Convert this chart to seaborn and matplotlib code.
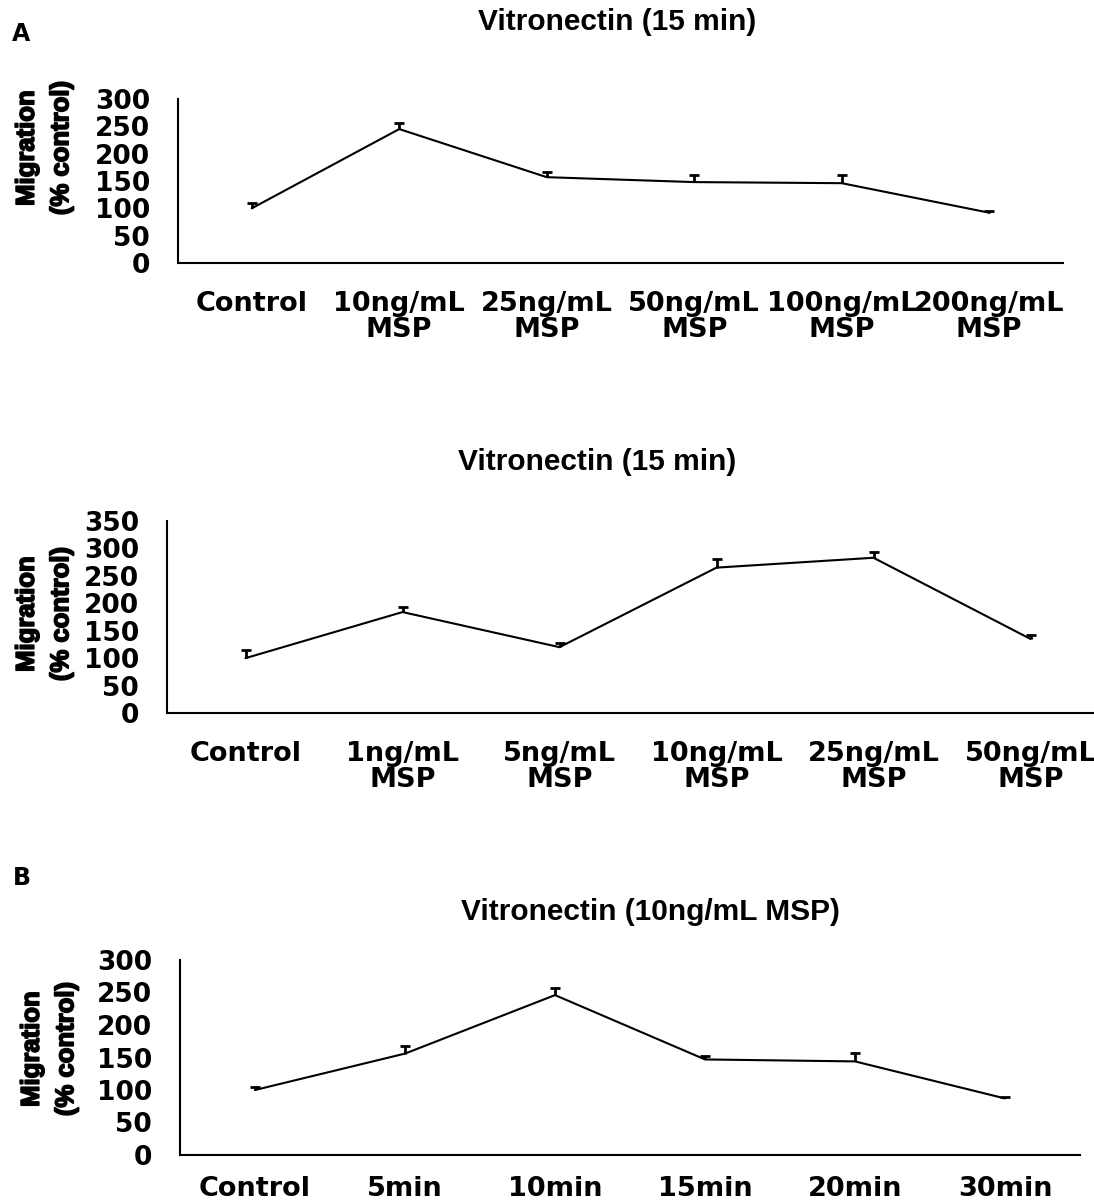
import numpy as np
import pandas as pd
import matplotlib
matplotlib.use("Agg")
import matplotlib.pyplot as plt
import matplotlib.patheffects as pe
import seaborn as sns

# Panel A (top): dose response, 15 min
dose1_labels = ["Control", "10ng/mL\nMSP", "25ng/mL\nMSP", "50ng/mL\nMSP", "100ng/mL\nMSP", "200ng/mL\nMSP"]
dose1_values = [100, 245, 157, 148, 146, 92]
dose1_err = [9, 12, 10, 13, 15, 3]

# Panel A (middle): dose response, 15 min
dose2_labels = ["Control", "1ng/mL\nMSP", "5ng/mL\nMSP", "10ng/mL\nMSP", "25ng/mL\nMSP", "50ng/mL\nMSP"]
dose2_values = [100, 184, 120, 265, 283, 135]
dose2_err = [15, 9, 7, 15, 10, 8]

# Panel B: time course, 10ng/mL MSP
time_labels = ["Control", "5min", "10min", "15min", "20min", "30min"]
time_values = [100, 156, 246, 147, 144, 87]
time_err = [5, 11, 11, 5, 13, 3]

sns.set_style("white")
plt.rcParams["font.family"] = ["DejaVu Sans"]
plt.rcParams["font.weight"] = "bold"
plt.rcParams["text.color"] = "black"
plt.rcParams["xtick.color"] = "black"
plt.rcParams["ytick.color"] = "black"

ARIAL = ["Liberation Sans", "DejaVu Sans"]

fig = plt.figure(figsize=(10.94, 12.04), dpi=100)

W, H = 1094, 1204


def panel(rect_px, labels, values, err, ymax, ystep, title, title_xy, ylab_xy, xpad=20):
    left, right, bottom, top = rect_px
    ax = fig.add_axes([left / W, 1 - bottom / H, (right - left) / W, (bottom - top) / H])
    df = pd.DataFrame({"cond": labels, "val": values})
    sns.lineplot(data=df, x="cond", y="val", ax=ax, color="black", lw=1.5, sort=False)
    eb = ax.errorbar(np.arange(len(values)), values, yerr=[np.zeros(len(err)), err],
                     fmt="none", ecolor="black", elinewidth=2, capsize=3.6, capthick=2)
    # one-sided bars: hide the lower caps
    eb[1][0].set_visible(False)
    ax.set_xlim(-0.5, len(values) - 0.5)
    ax.set_ylim(0, ymax)
    ax.set_yticks(np.arange(0, ymax + 1, ystep))
    ax.set_xticks(np.arange(len(values)))
    ax.set_xticklabels(labels, fontsize=19.5, fontweight="bold", linespacing=1.0)
    ax.set_xticks(np.arange(len(values) + 1) - 0.5, minor=True)
    ax.tick_params(axis="x", which="major", length=0, pad=xpad)
    ax.tick_params(axis="x", which="minor", length=8, width=1.5, direction="out", color="black")
    ax.tick_params(axis="y", length=6, width=1.5, direction="out", pad=14, labelsize=19, color="black")
    for t in ax.get_yticklabels():
        t.set_fontweight("bold")
    ax.set_xlabel("")
    ax.set_ylabel("")
    sns.despine(ax=ax)
    for s in ["left", "bottom"]:
        ax.spines[s].set_linewidth(1.5)
        ax.spines[s].set_color("black")
    fig.text(title_xy[0] / W, 1 - title_xy[1] / H, title, ha="center", va="center",
             fontsize=21.5, fontweight="bold", family=ARIAL)
    fig.text(ylab_xy[0] / W, 1 - ylab_xy[1] / H, "Migration\n(% control)",
             rotation=90, ha="center", va="center", fontsize=18.5, fontweight="bold",
             family=ARIAL, linespacing=1.55,
             path_effects=[pe.withStroke(linewidth=1.2, foreground="black")])
    return ax


panel((178, 1063, 263, 99), dose1_labels, dose1_values, dose1_err, 300, 50,
      "Vitronectin (15 min)", (617, 22), (44, 148))
panel((167, 1109, 713, 521), dose2_labels, dose2_values, dose2_err, 350, 50,
      "Vitronectin (15 min)", (597, 462), (44, 614))
panel((180, 1080, 1155, 960), time_labels, time_values, time_err, 300, 50,
      "Vitronectin (10ng/mL MSP)", (650, 912), (49, 1049), xpad=15)

fig.text(21 / W, 1 - 34 / H, "A", ha="center", va="center", fontsize=17, fontweight="bold")
fig.text(22 / W, 1 - 878 / H, "B", ha="center", va="center", fontsize=17, fontweight="bold")

fig.savefig("out.png", dpi=100)
